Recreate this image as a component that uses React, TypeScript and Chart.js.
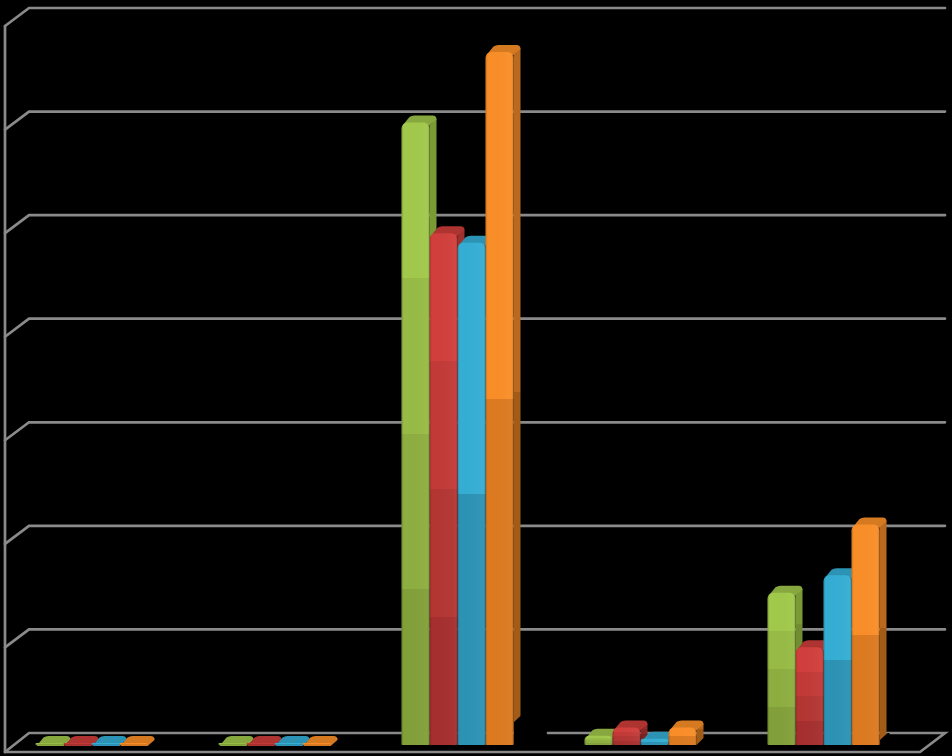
import React, { useEffect, useRef } from "react";
import { Chart, registerables } from "chart.js";

Chart.register(...registerables);

const categories = ["Category 1", "Category 2", "Category 3", "Category 4", "Category 5"];
const seriesA = [0.02, 0.02, 6.01, 0.09, 1.47];
const seriesB = [0.02, 0.02, 4.94, 0.17, 0.945];
const seriesC = [0.02, 0.02, 4.85, 0.06, 1.64];
const seriesD = [0.02, 0.02, 6.69, 0.17, 2.13];
const gridValues = [1, 2, 3, 4, 5, 6, 7];

const bandsA = ["#a1c94b", "#97bb45", "#8dae40", "#82a03a"];
const bandsB = ["#d13f3c", "#c23a38", "#b43633", "#a52f2e"];
const bandsC = ["#35aed4", "#2c93b5"];
const bandsD = ["#f98e28", "#dc7a20"];
const sidesA = ["#7a9a36", "#708d31", "#67812d", "#5d7428"];
const sidesB = ["#a0302d", "#932b29", "#872825", "#7a2321"];
const sidesC = ["#2886a3", "#1f708a"];
const sidesD = ["#b96a1e", "#a35c18"];
const topsA = ["#86a83e"];
const topsB = ["#ad3431"];
const topsC = ["#2c93b4"];
const topsD = ["#d67a22"];

const gridColor = "#8a8a8a";
const DX = 8;
const DY = 7;

function bandGradient(g: CanvasRenderingContext2D, yTop: number, yBase: number, colors: string[]) {
  if (!Number.isFinite(yTop) || !Number.isFinite(yBase)) return colors[0];
  const grad = g.createLinearGradient(0, yTop, 0, yBase);
  colors.forEach((c, i) => {
    grad.addColorStop(i / colors.length, c);
    grad.addColorStop((i + 1) / colors.length, c);
  });
  return grad;
}

const wallPlugin = {
  id: "wall",
  beforeDatasetsDraw(chart: any) {
    const g: CanvasRenderingContext2D = chart.ctx;
    const y = chart.scales.y;
    const frontX = 5;
    const backX = 29;
    const rightBack = 945;
    const rightFront = 920;
    g.save();
    g.strokeStyle = gridColor;
    g.lineWidth = 2.7;
    g.lineCap = "round";
    const line = (pts: number[][]) => {
      g.beginPath();
      pts.forEach((p, i) => (i ? g.lineTo(p[0], p[1]) : g.moveTo(p[0], p[1])));
      g.stroke();
    };
    gridValues.forEach((v) => {
      const py = y.getPixelForValue(v);
      line([[frontX, py + 6], [backX, py - 12], [rightBack, py - 12]]);
    });
    const y0 = y.getPixelForValue(0);
    line([[frontX, y.getPixelForValue(7) + 6], [frontX, y0 + 7]]);
    line([[frontX, y0 + 7], [backX, y0 - 12], [513, y0 - 12]]);
    line([[548, y0 - 12], [rightBack, y0 - 12], [rightFront, y0 + 7], [frontX, y0 + 7]]);

    // side and top faces, behind all front faces
    chart.data.datasets.forEach((ds: any, di: number) => {
      const meta = chart.getDatasetMeta(di);
      meta.data.forEach((bar: any) => {
        const p = bar.getProps(["x", "y", "base", "width"], true);
        const x0 = p.x - p.width / 2;
        const x1 = p.x + p.width / 2;
        const rightX = x1 + DX - 1;
        const backY = p.y - DY;
        g.fillStyle = bandGradient(g, backY, p.base - DY, ds.sideBands);
        g.beginPath();
        g.moveTo(x1, p.y + 3);
        g.lineTo(rightX, backY + 3);
        g.lineTo(rightX, p.base - DY);
        g.lineTo(x1, p.base);
        g.closePath();
        g.fill();
        g.fillStyle = ds.topBand[0];
        g.beginPath();
        g.moveTo(x0 + 1, p.y + 3);
        g.lineTo(x0 + DX, backY + 1.5);
        g.quadraticCurveTo(x0 + DX + 2, backY, x0 + DX + 5, backY);
        g.lineTo(rightX - 4, backY);
        g.quadraticCurveTo(rightX, backY, rightX, backY + 4);
        g.lineTo(x1, p.y + 3);
        g.closePath();
        g.fill();
      });
    });
    g.restore();
  },
  afterDatasetsDraw(chart: any) {
    const g: CanvasRenderingContext2D = chart.ctx;
    g.save();
    chart.data.datasets.forEach((_: any, di: number) => {
      chart.getDatasetMeta(di).data.forEach((bar: any) => {
        const p = bar.getProps(["x", "y", "base", "width"], true);
        if (p.base - p.y < 3) return;
        const x0 = p.x - p.width / 2;
        const grad = g.createLinearGradient(x0, 0, x0 + p.width, 0);
        grad.addColorStop(0, "rgba(0,0,0,0.2)");
        grad.addColorStop(0.08, "rgba(0,0,0,0)");
        grad.addColorStop(0.9, "rgba(255,255,255,0.03)");
        grad.addColorStop(1, "rgba(0,0,0,0.18)");
        g.fillStyle = grad;
        g.beginPath();
        (g as any).roundRect(x0, p.y, p.width, p.base - p.y, [6, 6, 1, 1]);
        g.fill();
      });
    });
    // the picture's dark patch at the foot of the tall orange bars
    const last = chart.getDatasetMeta(chart.data.datasets.length - 1).data;
    [[2, 30], [4, 12]].forEach(([i, h]) => {
      const p = last[i].getProps(["x", "base", "width"], true);
      const x1 = p.x + p.width / 2;
      g.fillStyle = "#000";
      g.beginPath();
      g.moveTo(x1 + 0.5, p.base + 1);
      g.lineTo(x1 + 0.5, p.base - h + 7);
      g.lineTo(x1 + DX, p.base - h);
      g.lineTo(x1 + DX + 2, p.base - h);
      g.lineTo(x1 + DX + 2, p.base + 1);
      g.closePath();
      g.fill();
    });
    g.restore();
  },
};

function makeDataset(label: string, data: number[], bands: string[], sideBands: string[], topBand: string[]) {
  return {
    label,
    data,
    sideBands,
    topBand,
    borderRadius: { topLeft: 6, topRight: 6, bottomLeft: 1, bottomRight: 1 },
    borderSkipped: false,
    backgroundColor: (ctx: any) => {
      if (ctx.type !== "data" || !ctx.parsed) return bands[0];
      const y = ctx.chart.scales.y;
      return bandGradient(ctx.chart.ctx, y.getPixelForValue(ctx.parsed.y), y.getPixelForValue(0), bands);
    },
  };
}

export default function App() {
  const ref = useRef<HTMLCanvasElement>(null);
  useEffect(() => {
    const chart = new Chart(ref.current as HTMLCanvasElement, {
      type: "bar",
      data: {
        labels: categories,
        datasets: [
          makeDataset("Series 1", seriesA, bandsA, sidesA, topsA),
          makeDataset("Series 2", seriesB, bandsB, sidesB, topsB),
          makeDataset("Series 3", seriesC, bandsC, sidesC, topsC),
          makeDataset("Series 4", seriesD, bandsD, sidesD, topsD),
        ] as any,
      },
      plugins: [wallPlugin],
      options: {
        animation: false,
        responsive: false,
        devicePixelRatio: 1,
        layout: { padding: { left: 0, right: 37, top: 20, bottom: 11 } },
        datasets: { bar: { barPercentage: 1, categoryPercentage: 0.612 } },
        plugins: { legend: { display: false }, tooltip: { enabled: false }, title: { display: false } },
        scales: {
          x: { display: false },
          y: { display: false, min: 0, max: 7 },
        },
      },
    });
    return () => chart.destroy();
  }, []);
  return (
    <div style={{ position: "fixed", left: 0, top: 0, width: 952, height: 756, background: "#000", overflow: "hidden" }}>
      <canvas ref={ref} width={952} height={756} style={{ display: "block", filter: "blur(0.6px)" }} />
    </div>
  );
}
